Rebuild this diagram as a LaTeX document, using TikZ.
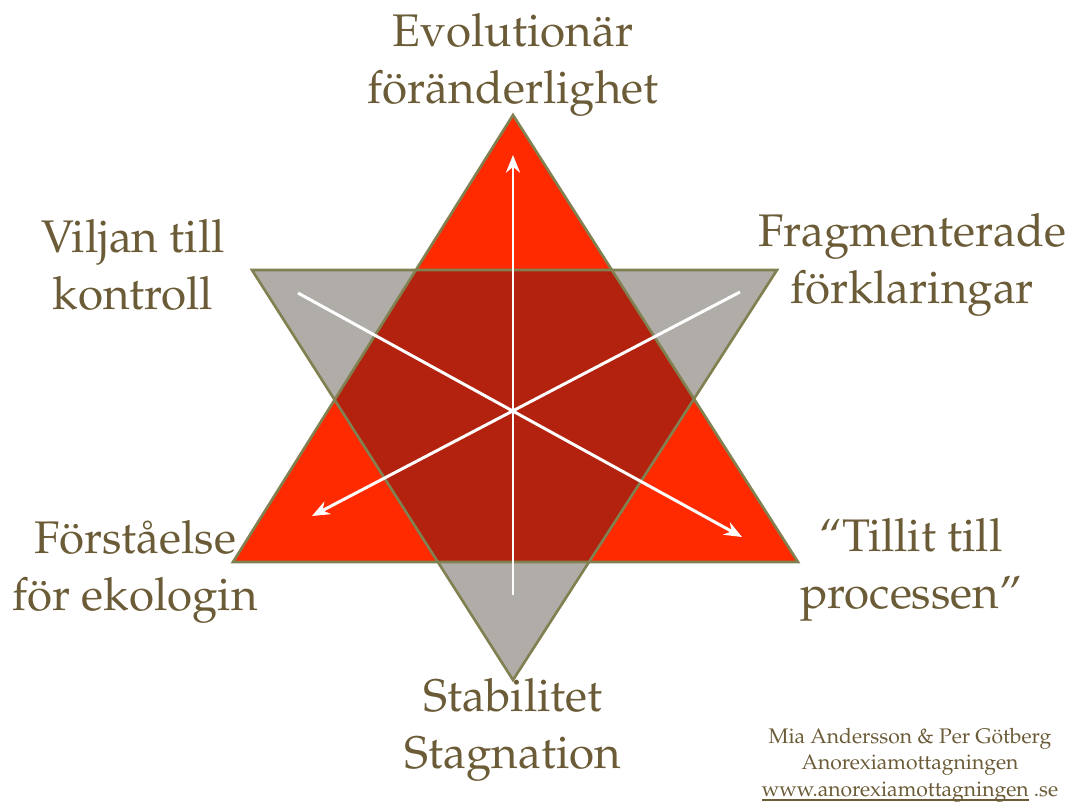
\documentclass[tikz,border=0pt]{standalone}
\usepackage[T1]{fontenc}
\usepackage{mathpazo}
\usetikzlibrary{arrows.meta}

\definecolor{starred}{RGB}{255,42,0}
\definecolor{stardark}{RGB}{178,34,14}
\definecolor{stargray}{RGB}{176,173,169}
\definecolor{staredge}{RGB}{128,128,80}
\definecolor{startext}{RGB}{107,92,55}

\newcommand*{\thickul}[1]{\setbox0\hbox{#1}\rlap{\rule[-2.6pt]{\wd0}{0.9pt}}\box0\relax}

\begin{document}
\begin{tikzpicture}
[
	x=0.02cm, y=-0.02cm,
	tri/.style={draw=staredge,line width=1.5pt},
	arr/.style={white,line width=1.7pt,-{Stealth[length=10pt,width=8pt]}},
	lbl/.style={text=startext,font=\fontsize{26}{32}\selectfont,align=center,inner sep=0pt},
	credit/.style={text=startext,font=\fontsize{12}{15}\selectfont,align=center,inner sep=0pt}
]

	\useasboundingbox (0,0) rectangle (1069,802);

	% corners of the two triangles
	\coordinate (rtop) at (513,115);
	\coordinate (rleft) at (233,562);
	\coordinate (rright) at (798,562);
	\coordinate (gleft) at (252,270);
	\coordinate (gright) at (777,270);
	\coordinate (gbot) at (513,680);

	% fills
	\fill[starred] (rtop) -- (rleft) -- (rright) -- cycle;
	\fill[stargray] (gleft) -- (gright) -- (gbot) -- cycle;
	\begin{scope}
		\clip (rtop) -- (rleft) -- (rright) -- cycle;
		\fill[stardark] (gleft) -- (gright) -- (gbot) -- cycle;
	\end{scope}

	% outlines
	\draw[tri] (rtop) -- (rleft) -- (rright) -- cycle;
	\draw[tri] (gleft) -- (gright) -- (gbot) -- cycle;

	% arrows
	\coordinate (vstart) at (513,595);
	\coordinate (vend) at (513,155);
	\coordinate (astart) at (298,293);
	\coordinate (aend) at (742,537);
	\coordinate (bstart) at (740,292);
	\coordinate (bend) at (312,516);
	\draw[arr] (vstart) -- (vend);
	\draw[arr] (astart) -- (aend);
	\draw[arr] (bstart) -- (bend);

	% labels
	\node[lbl] (evol) at (513,65) {Evolutionär\\föränderlighet};
	\node[lbl] (vilja) at (133,265) {Viljan till\\kontroll};
	\node[lbl] (fragm) at (912,265) {Fragmenterade\\förklaringar};
	\node[lbl] (forst) at (135,572) {Förståelse\\för ekologin};
	\node[lbl] (tillit) at (911,570) {``Tillit till\\processen''};
	\node[lbl] (stab) at (513,730) {Stabilitet\\Stagnation};

	% credit
	\node[credit] (cred) at (910,765) {Mia Andersson \& Per Götberg\\Anorexiamottagningen\\\thickul{www.anorexiamottagningen} .se};

\end{tikzpicture}
\end{document}
